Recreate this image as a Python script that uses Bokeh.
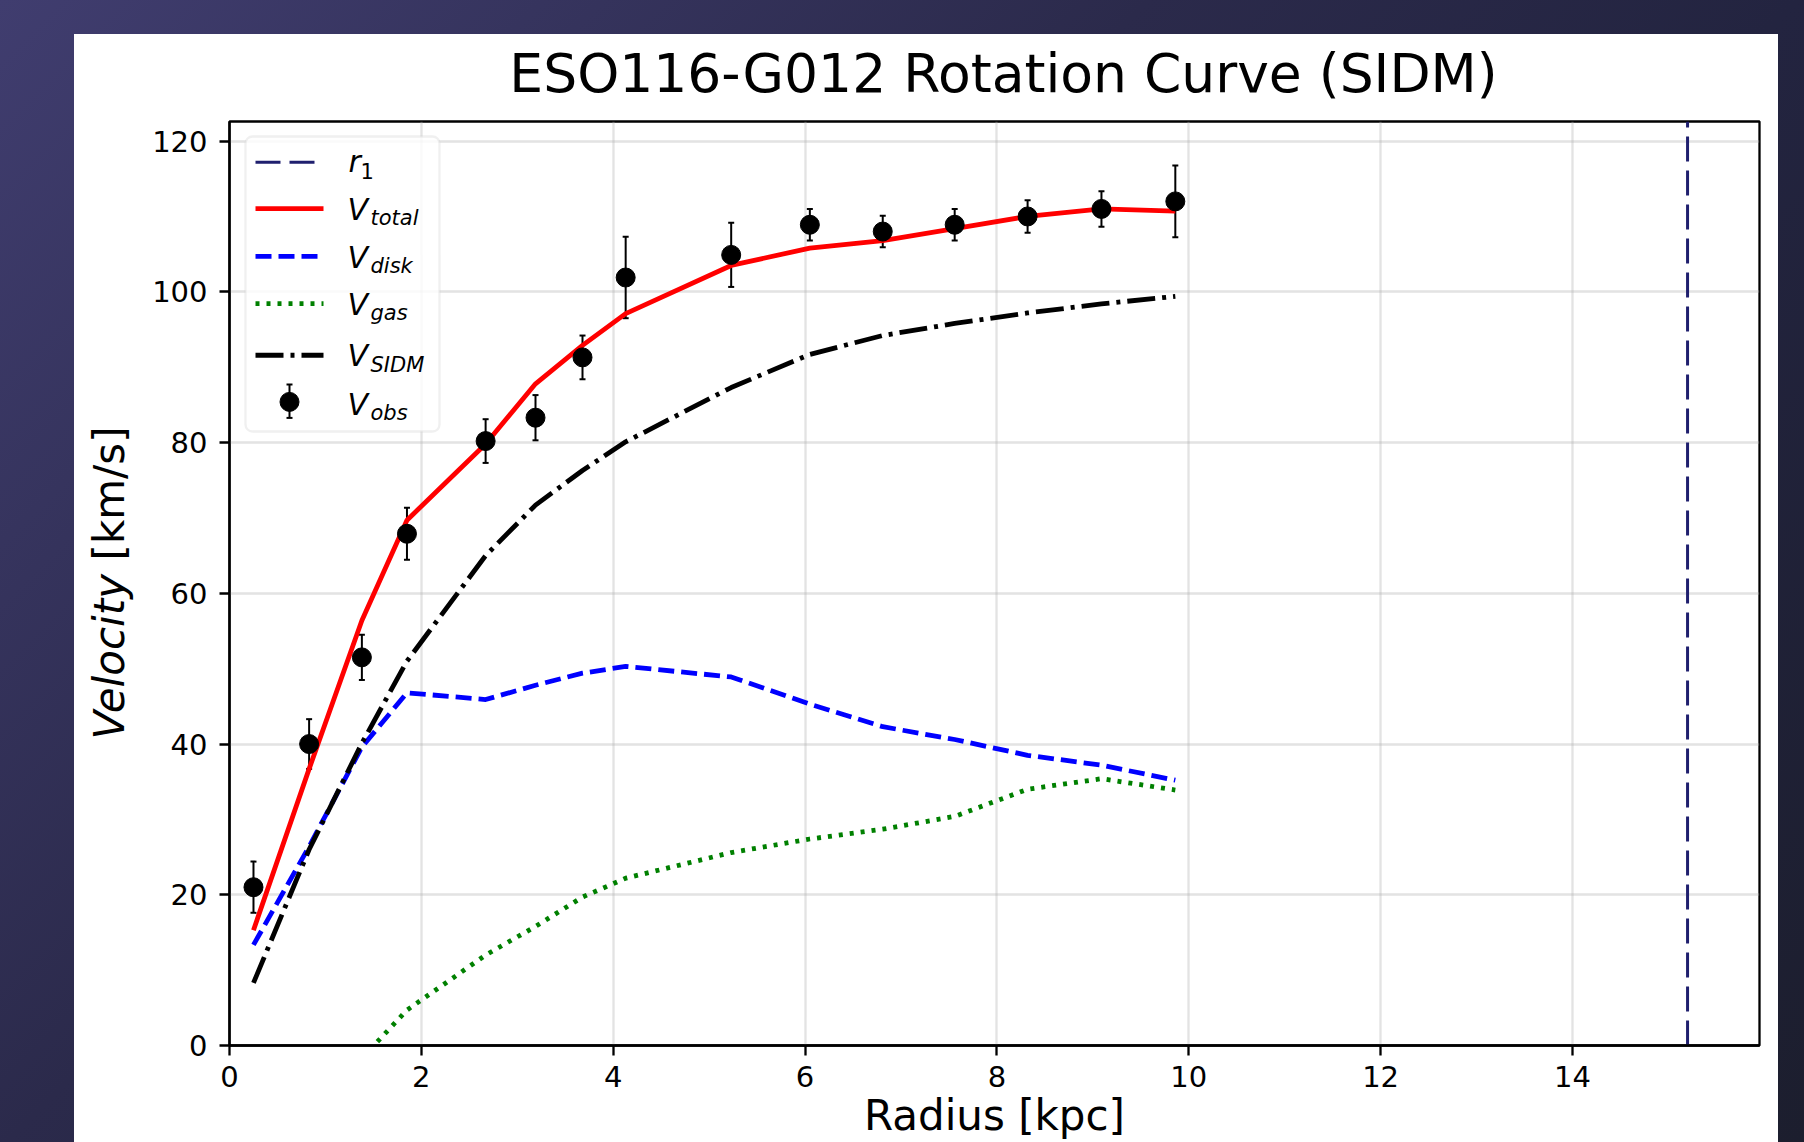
from math import pi

from bokeh.embed import file_html
from bokeh.layouts import column, row
from bokeh.models import (BoxAnnotation, ColumnDataSource, FixedTicker, Label,
                          Range1d, TeeHead, Whisker)
from bokeh.plotting import figure
from bokeh.resources import INLINE

# ---------------------------------------------------------------- data
# ESO116-G012 rotation curve: radius in kpc, velocities in km/s
radius = [0.25, 0.83, 1.38, 1.85, 2.67, 3.19, 3.68, 4.13, 5.23, 6.05, 6.81, 7.56, 8.32, 9.09, 9.86]
v_obs = [21.0, 40.0, 51.5, 67.9, 80.2, 83.3, 91.3, 101.9, 104.9, 108.9, 108.0, 108.9, 110.0, 111.0, 112.0]
v_err = [3.4, 3.3, 3.0, 3.45, 2.9, 3.0, 2.9, 5.4, 4.25, 2.1, 2.1, 2.1, 2.15, 2.35, 4.75]
v_total = [15.3, 36.7, 56.4, 69.7, 79.8, 87.8, 92.9, 97.1, 103.5, 105.8, 106.8, 108.4, 110.0, 111.0, 110.7]
v_disk = [13.35, 26.4, 39.6, 46.8, 45.9, 47.8, 49.4, 50.3, 48.9, 45.3, 42.3, 40.6, 38.5, 37.2, 35.2]
v_gas = [-3.5, -2.8, -1.7, 4.7, 12.0, 15.8, 19.7, 22.2, 25.6, 27.4, 28.7, 30.4, 34.0, 35.4, 33.9]
v_sidm = [8.3, 26.0, 40.1, 51.0, 65.0, 71.7, 76.3, 80.1, 87.3, 91.7, 94.2, 95.8, 97.2, 98.4, 99.4]
r1 = 15.2

x_ticks = [0, 2, 4, 6, 8, 10, 12, 14]
y_ticks = [0, 20, 40, 60, 80, 100, 120]

title_text = "ESO116-G012 Rotation Curve (SIDM)"
xlabel_text = "Radius [kpc]"
ylabel_main, ylabel_unit = "Velocity", "[km/s]"

# ---------------------------------------------------------------- layout
PANEL_W, PANEL_H = 1704, 1108       # white figure area
TITLE_H = 82                        # strip holding the title
YLAB_W = 70                         # strip holding the y label
MAIN_W = PANEL_W - YLAB_W
MAIN_H = PANEL_H - TITLE_H
BL, BR, BT, BB = 85, 19, 5, 96
FW = MAIN_W - BL - BR               # 1530
FH = MAIN_H - BT - BB               # 925
X_MAX, Y_MAX = 15.95, 122.6
FONT = "DejaVu Sans"
LW = 4.8
BASE_SHIFT = 0.35                   # alphabetic-baseline correction, in em

C_R1 = "#1f1f6e"
C_TOTAL = "#ff0000"
C_DISK = "#0000ff"
C_GAS = "#008000"
C_SIDM = "#000000"

DASH_R1 = "25 9"
DASH_DISK = "16 7"
DASH_GAS = "4 7"
DASH_SIDM = "28 7 4 7"


def strip(w, h):
    f = figure(width=w, height=h, x_range=Range1d(0, 1), y_range=Range1d(0, 1),
               x_axis_type=None, y_axis_type=None, title=None,
               output_backend="svg", toolbar_location=None, min_border=0)
    f.outline_line_color = None
    f.background_fill_color = "white"
    f.border_fill_color = "white"
    return f


def text(fig, x, y, s, size, style="normal", align="left", angle=0.0):
    # y is the wanted baseline; shift the anchor so the glyph baseline lands there
    dx = -BASE_SHIFT * size if angle else 0.0
    dy = 0.0 if angle else BASE_SHIFT * size
    fig.add_layout(Label(x=x + dx, y=y + dy, x_units="screen", y_units="screen", text=s,
                         text_font=FONT, text_font_size=f"{size}px",
                         text_font_style=style, text_color="black",
                         text_align=align, text_baseline="alphabetic", angle=angle))


# ---------------------------------------------------------------- main plot
p = figure(width=MAIN_W, height=MAIN_H,
           x_range=Range1d(0, X_MAX), y_range=Range1d(0, Y_MAX),
           output_backend="svg", toolbar_location=None, title=None,
           min_border_left=BL, min_border_right=BR,
           min_border_top=BT, min_border_bottom=BB)
p.background_fill_color = "white"
p.border_fill_color = "white"
p.outline_line_color = "black"
p.outline_line_width = 2.3

p.xaxis.ticker = FixedTicker(ticks=x_ticks)
p.yaxis.ticker = FixedTicker(ticks=y_ticks)
for ax in (p.xaxis[0], p.yaxis[0]):
    ax.axis_line_width = 2.3
    ax.axis_line_color = "black"
    ax.major_tick_line_width = 2.3
    ax.major_tick_line_color = "black"
    ax.major_tick_out = 10
    ax.major_tick_in = 0
    ax.minor_tick_out = 0
    ax.minor_tick_in = 0
    ax.major_label_text_font = FONT
    ax.major_label_text_font_size = "29px"
    ax.major_label_text_color = "black"
p.xaxis.major_label_standoff = 10
p.yaxis.major_label_standoff = 12

p.xaxis.axis_label = xlabel_text
p.xaxis.axis_label_text_font = FONT
p.xaxis.axis_label_text_font_size = "42px"
p.xaxis.axis_label_text_font_style = "normal"
p.xaxis.axis_label_text_color = "black"
p.xaxis.axis_label_standoff = 1

p.grid.grid_line_color = "#b0b0b0"
p.grid.grid_line_alpha = 0.35
p.grid.grid_line_width = 2.3

p.line([r1, r1], [0, Y_MAX], line_color=C_R1, line_width=3, line_dash=DASH_R1)
p.line(radius, v_total, line_color=C_TOTAL, line_width=LW, line_join="round")
p.line(radius, v_disk, line_color=C_DISK, line_width=LW, line_dash=DASH_DISK, line_join="round")
p.line(radius, v_gas, line_color=C_GAS, line_width=LW, line_dash=DASH_GAS, line_join="round")
p.line(radius, v_sidm, line_color=C_SIDM, line_width=LW, line_dash=DASH_SIDM, line_join="round")

obs = ColumnDataSource(dict(
    r=radius, v=v_obs,
    lo=[v - e for v, e in zip(v_obs, v_err)],
    hi=[v + e for v, e in zip(v_obs, v_err)],
))
p.add_layout(Whisker(source=obs, base="r", lower="lo", upper="hi",
                     line_color="black", line_width=2,
                     lower_head=TeeHead(size=6, line_width=2, line_color="black"),
                     upper_head=TeeHead(size=6, line_width=2, line_color="black")))
p.scatter("r", "v", source=obs, size=19, fill_color="black", line_color="black")

# ---------------------------------------------------------------- legend
def sx(px):
    return px * X_MAX / FW


def sy(py):
    return py * Y_MAX / FH


p.add_layout(BoxAnnotation(left=16, right=210, top=909, bottom=614,
                           left_units="screen", right_units="screen",
                           top_units="screen", bottom_units="screen",
                           fill_color="white", fill_alpha=0.8,
                           line_color="#cccccc", line_width=2.3,
                           border_radius=7, level="underlay"))

KEY_X0, KEY_X1 = 26, 94
key_rows = [
    (884.3, C_R1, DASH_R1, 3),
    (837.7, C_TOTAL, "solid", LW),
    (790.0, C_DISK, DASH_DISK, LW),
    (742.7, C_GAS, DASH_GAS, LW),
    (691.0, C_SIDM, DASH_SIDM, LW),
]
for ky, col, dash, lw in key_rows:
    p.line([sx(KEY_X0), sx(KEY_X1)], [sy(ky), sy(ky)],
           line_color=col, line_width=lw, line_dash=dash)

OBS_KEY_Y = 644.3
key_mid = (KEY_X0 + KEY_X1) / 2
p.scatter([sx(key_mid)], [sy(OBS_KEY_Y)], size=19, fill_color="black", line_color="black")
p.add_layout(Whisker(source=ColumnDataSource(dict(b=[key_mid], lo=[OBS_KEY_Y - 16.7], hi=[OBS_KEY_Y + 16.7])),
                     base="b", lower="lo", upper="hi",
                     base_units="screen", lower_units="screen", upper_units="screen",
                     line_color="black", line_width=2,
                     lower_head=TeeHead(size=6, line_width=2, line_color="black"),
                     upper_head=TeeHead(size=6, line_width=2, line_color="black")))

TXT_X, SUB_X = 118, 141
text(p, 119, 874, "r", 30, "italic")
text(p, 131, 867, "1", 21)
for base, sub in [(826, "total"), (777.7, "disk"), (731, "gas"), (679.3, "SIDM"), (631, "obs")]:
    text(p, TXT_X, base, "V", 30, "italic")
    text(p, SUB_X, base - 6, sub, 21, "italic")

# ---------------------------------------------------------------- title / y label
title_fig = strip(PANEL_W, TITLE_H)
text(title_fig, 929, 24.3, title_text, 53.5, align="center")

ylab_fig = strip(YLAB_W, MAIN_H)
text(ylab_fig, 50, 568.5, ylabel_main, 42, "italic", align="right", angle=pi / 2)
text(ylab_fig, 50, 582, ylabel_unit, 42, align="left", angle=pi / 2)

panel = column(title_fig, row(ylab_fig, column(p)), styles={"background": "white"})
panel.margin = (34, 26, 0, 74)

page = column(panel, width=1804, height=1142, styles={
    "background": "linear-gradient(135deg, #403d6f 0%, #2b2a4b 39%, #232440 61%, #1c1e2e 100%)",
})

open("out.html", "w").write(file_html(page, INLINE))
